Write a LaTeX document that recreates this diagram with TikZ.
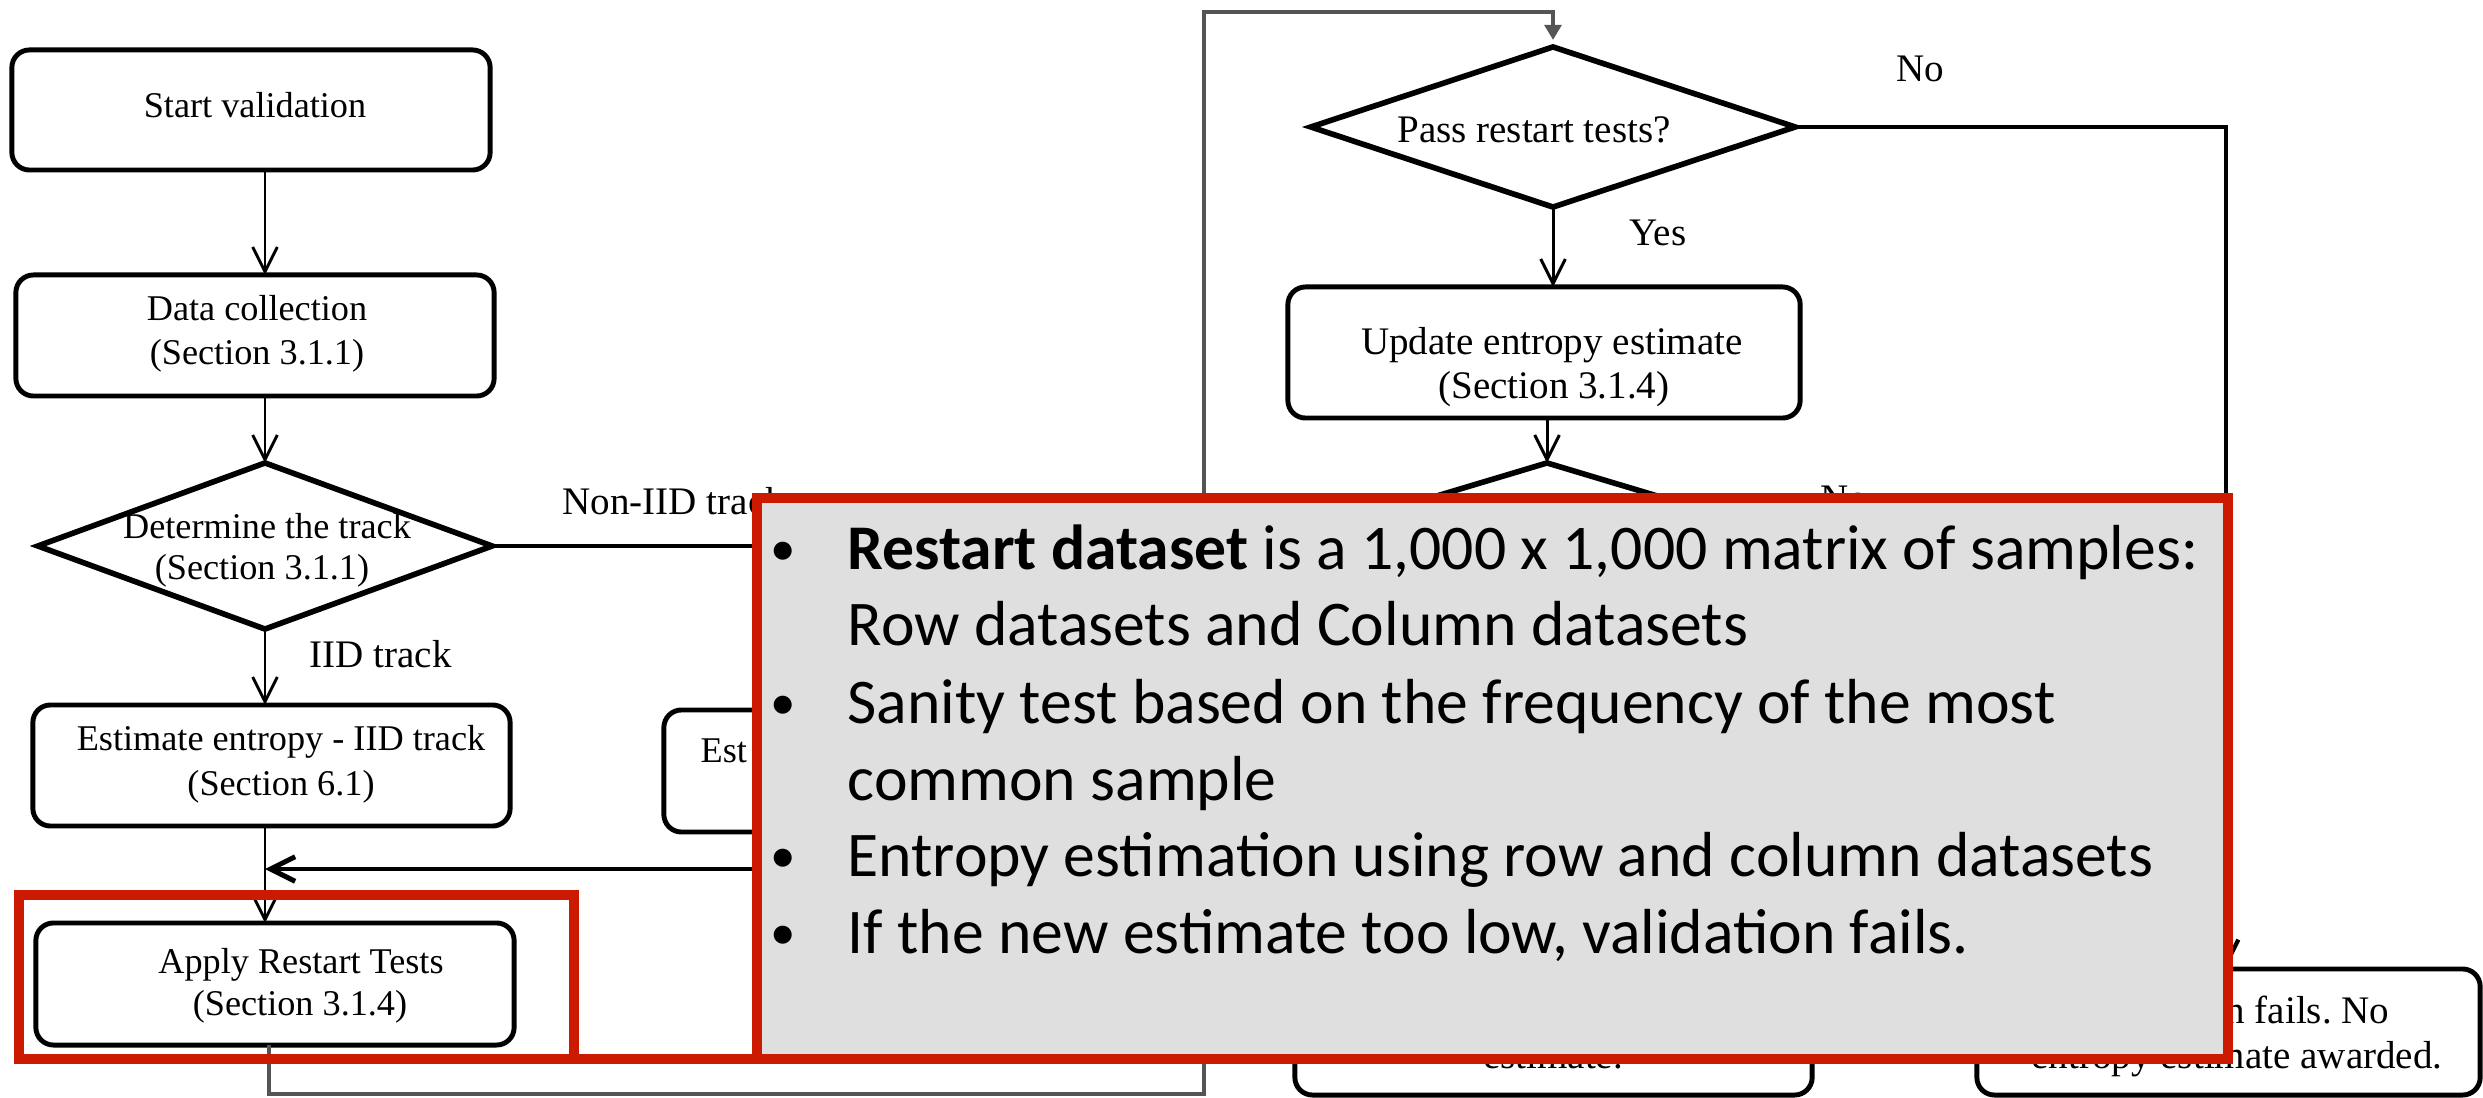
\documentclass[tikz,border=0pt]{standalone}
\usepackage{fontspec}
\setmainfont{Liberation Serif}
\newfontfamily\calibfont{Carlito}
\usetikzlibrary{arrows.meta,shapes.geometric}
\definecolor{hlred}{RGB}{204,26,0}
\definecolor{ovgray}{RGB}{223,223,223}
\definecolor{loopgray}{RGB}{85,85,85}
\frenchspacing
\tikzset{
  fbox/.style={draw=black,line width=1.4pt,rounded corners=5pt,fill=white,inner sep=0pt,outer sep=0pt},
  dmd/.style={draw=black,line width=1.6pt,diamond,inner sep=0pt,outer sep=0pt,fill=white},
  ltxt/.style={font=\fontsize{10.3pt}{12.4pt}\selectfont,inner sep=0pt,anchor=base},
  rtxt/.style={font=\fontsize{11.1pt}{13.3pt}\selectfont,inner sep=0pt,anchor=base},
  conn/.style={draw=black,line width=0.85pt},
  arrowline/.style={conn,-{Straight Barb[length=7pt,width=7pt]}},
  loopline/.style={draw=loopgray,line width=1pt,-{Triangle[length=4.3pt,width=4.8pt]}},
  hlbox/.style={draw=hlred,line width=2.85pt},
  ovtxt/.style={font=\calibfont\fontsize{18.1pt}{21.8pt}\selectfont,inner sep=0pt,anchor=base west},
  bul/.style={font=\calibfont\fontsize{14.5pt}{17pt}\selectfont,inner sep=0pt,anchor=base},
}
\begin{document}
\begin{tikzpicture}[x=0.01cm,y=-0.01cm]
\fill[white] (0,0) rectangle (2483,1098);
\useasboundingbox (0,0) rectangle (2483,1098);
\begin{scope}
\clip (0,0) rectangle (2483,1098);
\coordinate (colL) at (265,0);
% ---------- left column ----------
\node[fbox,minimum width=4.78cm,minimum height=1.20cm] (start) at (251,110) {};
\node[ltxt] (startT) at (255,118) {Start validation};
\node[fbox,minimum width=4.78cm,minimum height=1.21cm] (data) at (255,335.5) {};
\node[ltxt] (dataA) at (257,321) {Data collection};
\node[ltxt] (dataB) at (257,365) {(Section 3.1.1)};
\node[dmd,minimum width=4.54cm,minimum height=1.66cm] (track) at (265,546) {};
\node[ltxt] (trackA) at (267,539) {Determine the track};
\node[ltxt] (trackB) at (262,580) {(Section 3.1.1)};
\node[fbox,minimum width=4.77cm,minimum height=1.21cm] (estI) at (271.5,765.5) {};
\node[ltxt] (estIA) at (281,751) {Estimate entropy - IID track};
\node[ltxt] (estIB) at (281,795) {(Section 6.1)};
\node[fbox,minimum width=5.0cm,minimum height=1.22cm] (estN) at (914,771) {};
\node[ltxt,anchor=base west] (estNT) at (700,762) {Est};
\node[fbox,minimum width=4.78cm,minimum height=1.22cm] (apply) at (275,984) {};
\node[ltxt] (applyA) at (301,973.5) {Apply Restart Tests};
\node[ltxt] (applyB) at (300,1015.5) {(Section 3.1.4)};
\draw[arrowline] (start.south -| colL) -- (data.north -| colL);
\draw[arrowline] (data.south -| colL) -- (track.north);
\draw[arrowline] (track.south) -- (estI.north -| track.south);
\node[rtxt,anchor=base west] (iidL) at (309,668) {IID track};
\coordinate (nonEnd) at (1000,0);
\draw[conn,line width=1.4pt] (track.east) -- (track.east -| nonEnd);
\node[rtxt,anchor=base west] (nonL) at (562,515) {Non-IID track};
\draw[arrowline] (estI.south -| colL) -- (apply.north -| colL);
\coordinate (mergeR) at (1000,869);
\draw[arrowline,line width=1.4pt] (mergeR) -- (mergeR -| colL);
% ---------- right column ----------
\node[dmd,minimum width=4.84cm,minimum height=1.60cm] (pass) at (1553,127) {};
\node[rtxt] (passT) at (1534,143) {Pass restart tests?};
\node[rtxt] (noA) at (1920,82) {No};
\coordinate (noR) at (2226,0);
\node[fbox,minimum width=5.12cm,minimum height=1.31cm] (update) at (1544,352.5) {};
\node[rtxt] (updA) at (1552,355) {Update entropy estimate};
\node[rtxt] (updB) at (1554,399) {(Section 3.1.4)};
\draw[arrowline] (pass.south) -- (pass.south |- update.north);
\node[rtxt] (yesL) at (1658,246) {Yes};
\node[dmd,minimum width=5.34cm,minimum height=1.60cm] (chk) at (1547,543) {};
\draw[arrowline] (update.south -| chk.north) -- (chk.north);
\node[rtxt] (noB) at (1844,512) {No};
\node[fbox,minimum width=5.17cm,minimum height=1.20cm] (final) at (1553.5,1035) {};
\node[rtxt] (finalT) at (1553,1068) {estimate.};
\node[fbox,minimum width=5.03cm,minimum height=1.26cm] (fail) at (2228.5,1032) {};
\node[rtxt] (failA) at (2237,1023) {Validation fails. No};
\node[rtxt] (failB) at (2237,1068) {entropy estimate awarded.};
\draw[arrowline,line width=1.2pt] (pass.east) -- (pass.east -| noR) -- (fail.north -| noR);
% ---------- restart loop ----------
\coordinate (lpA) at (269,1094);
\coordinate (lpB) at (1204,1094);
\coordinate (lpC) at (1204,12);
\draw[loopline,shorten >=2pt] (apply.south -| lpA) -- (lpA) -- (lpB) -- (lpC) -- (lpC -| pass.north) -- (pass.north);
% ---------- highlight ----------
\draw[hlbox] (19,895) rectangle (574,1059);
\draw[hlbox] (574,1059) -- (760,1059);
\filldraw[hlbox,fill=ovgray] (757,498) rectangle (2228,1059);
\node[bul] (b1) at (783,566) {\textbullet};
\node[ovtxt] (t1) at (847,570) {\textbf{Restart dataset} is a 1,000 x 1,000 matrix of samples:};
\node[ovtxt] (t2) at (847,646) {Row datasets and Column datasets};
\node[bul] (b2) at (783,719) {\textbullet};
\node[ovtxt] (t3) at (847,723) {Sanity test based on the frequency of the most};
\node[ovtxt] (t4) at (847,800) {common sample};
\node[bul] (b3) at (783,872) {\textbullet};
\node[ovtxt] (t5) at (847,876) {Entropy estimation using row and column datasets};
\node[bul] (b4) at (783,949) {\textbullet};
\node[ovtxt] (t6) at (847,953) {If the new estimate too low, validation fails.};
\end{scope}
\end{tikzpicture}
\end{document}
